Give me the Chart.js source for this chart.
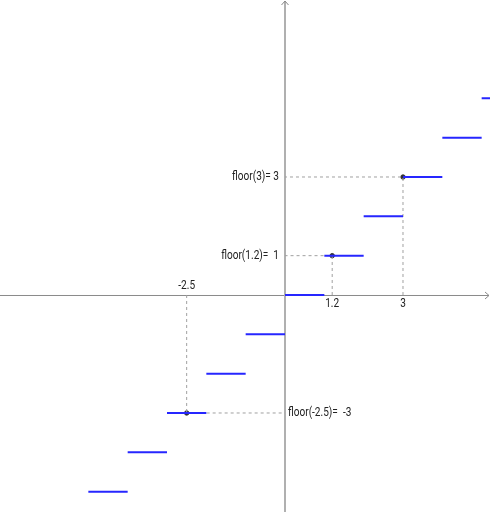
<!DOCTYPE html>
<html>
<head>
<meta charset="utf-8">
<script src="https://cdn.jsdelivr.net/npm/chart.js@4"></script>
<style>
  body { margin: 0; background: #fff; }
  #wrap { width: 490px; height: 512px; position: relative; }
</style>
</head>
<body>
<div id="wrap"><canvas id="floorChart"></canvas></div>
<script>
// step levels of floor(x): each level n is drawn from x = n to x = n + 1
const stepLevels = [-6, -5, -4, -3, -2, -1, 0, 1, 2, 3, 4, 5];

// sample points marked on the graph
const sampleX = [1.2, 3, -2.5];
const sampleY = [1, 3, -3];
const sampleLabels = ['floor(1.2)=  1', 'floor(3)= 3', 'floor(-2.5)=  -3'];
const sampleTicks = ['1.2', '3', '-2.5'];

// visible window (units)
const xRange = [-7.246, 5.212];
const yRange = [-5.517, 7.5];

const stepSets = stepLevels.map(function(n) {
    return {
        type: 'line',
        data: [{x: n, y: n}, {x: n + 1, y: n}],
        borderColor: '#2626ff',
        borderWidth: 2,
        pointRadius: 0,
        fill: false
    };
});

const guideSets = [];
sampleX.forEach(function(x, i) {
    const y = sampleY[i];
    guideSets.push({
        type: 'line',
        data: [{x: x, y: 0}, {x: x, y: y}, {x: 0, y: y}],
        borderColor: '#a0a0a0',
        borderWidth: 1,
        borderDash: [3, 3],
        pointRadius: 0,
        fill: false
    });
});

const pointSet = {
    type: 'scatter',
    data: sampleX.map(function(x, i) { return {x: x, y: sampleY[i]}; }),
    backgroundColor: '#333',
    borderColor: '#333',
    pointRadius: 2.2
};

// narrow text, like the original labels
function narrowText(ctx, text, x, y, align) {
    ctx.save();
    ctx.translate(x, y);
    ctx.scale(0.84, 1);
    ctx.textAlign = align;
    ctx.fillText(text, 0, 0);
    ctx.restore();
}

// axes, arrows and labels
const axisPlugin = {
    id: 'axisPlugin',
    beforeDatasetsDraw(chart) {
        const ctx = chart.ctx;
        const xs = chart.scales.x, ys = chart.scales.y;
        const x0 = xs.getPixelForValue(0), y0 = ys.getPixelForValue(0);
        const area = chart.chartArea;
        ctx.save();
        // x axis
        ctx.strokeStyle = '#8a8a8a';
        ctx.lineWidth = 1;
        ctx.beginPath();
        ctx.moveTo(area.left, y0 + 0.5);
        ctx.lineTo(area.right - 1, y0 + 0.5);
        ctx.moveTo(area.right - 5, y0 - 3);
        ctx.lineTo(area.right - 1, y0 + 0.5);
        ctx.lineTo(area.right - 5, y0 + 4);
        ctx.stroke();
        // y axis
        ctx.strokeStyle = '#b0b0b0';
        ctx.lineWidth = 2;
        ctx.beginPath();
        ctx.moveTo(x0, area.bottom);
        ctx.lineTo(x0, area.top + 1);
        ctx.stroke();
        ctx.strokeStyle = '#8a8a8a';
        ctx.lineWidth = 1;
        ctx.beginPath();
        ctx.moveTo(x0 - 3.5, area.top + 5);
        ctx.lineTo(x0, area.top + 1);
        ctx.lineTo(x0 + 3.5, area.top + 5);
        ctx.stroke();
        ctx.restore();
    },
    afterDatasetsDraw(chart) {
        const ctx = chart.ctx;
        const xs = chart.scales.x, ys = chart.scales.y;
        const x0 = xs.getPixelForValue(0), y0 = ys.getPixelForValue(0);
        ctx.save();
        ctx.font = '12px Roboto';
        ctx.fillStyle = '#222';
        ctx.textBaseline = 'middle';
        sampleX.forEach(function(x, i) {
            const px = xs.getPixelForValue(x);
            const py = ys.getPixelForValue(sampleY[i]);
            if (x >= 0) {
                narrowText(ctx, sampleLabels[i], x0 - 6, py, 'right');
                narrowText(ctx, sampleTicks[i], px, y0 + 9, 'center');
            } else {
                narrowText(ctx, sampleLabels[i], x0 + 3, py, 'left');
                narrowText(ctx, sampleTicks[i], px, y0 - 9, 'center');
            }
        });
        ctx.restore();
    }
};

new Chart(document.getElementById('floorChart').getContext('2d'), {
    data: {
        datasets: stepSets.concat(guideSets).concat([pointSet])
    },
    options: {
        responsive: true,
        maintainAspectRatio: false,
        animation: false,
        layout: { padding: 0, autoPadding: false },
        scales: {
            x: { type: 'linear', min: xRange[0], max: xRange[1], display: false },
            y: { type: 'linear', min: yRange[0], max: yRange[1], display: false }
        },
        plugins: {
            legend: { display: false },
            tooltip: { enabled: false }
        }
    },
    plugins: [axisPlugin]
});
</script>
</body>
</html>
